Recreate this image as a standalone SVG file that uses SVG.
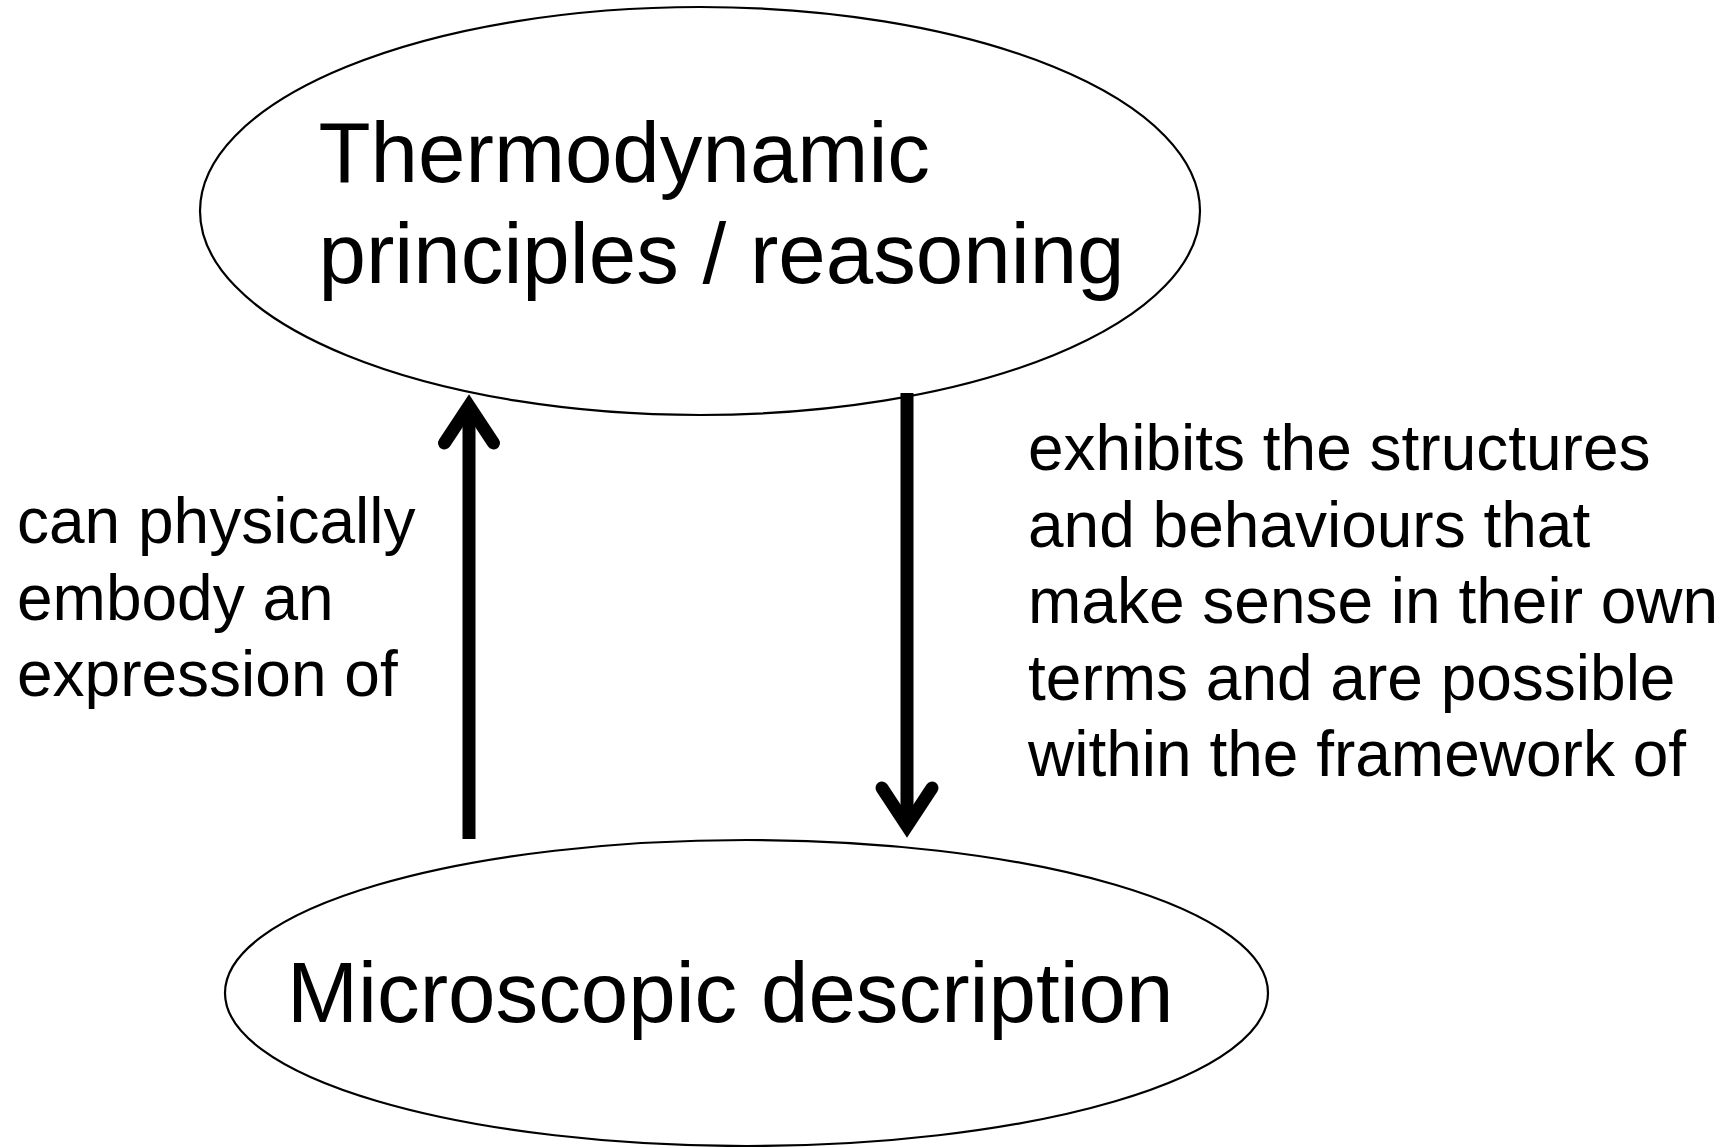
<svg xmlns="http://www.w3.org/2000/svg" width="1723" height="1147" viewBox="0 0 1723 1147">
<style>
.node{fill:#fff;stroke:#000;stroke-width:2.2}
.big{font-family:"Liberation Sans",Arial,sans-serif;font-size:85.3px;fill:#000}
.lbl{font-family:"Liberation Sans",Arial,sans-serif;font-size:64px;fill:#000}
.arr{fill:none;stroke:#000;stroke-width:13;stroke-linejoin:miter;stroke-linecap:butt}
.head{fill:none;stroke:#000;stroke-width:13;stroke-linejoin:miter;stroke-linecap:round}
</style>
<rect width="1723" height="1147" fill="#fff"/>
<g id="thermo">
<ellipse class="node" cx="700" cy="211" rx="500" ry="204"/>
<text class="big" x="318.5" y="181.5">Thermodynamic</text>
<text class="big" x="318.5" y="283">principles / reasoning</text>
</g>
<g id="micro">
<ellipse class="node" cx="746.5" cy="993" rx="521.5" ry="153"/>
<text class="big" x="287" y="1021.5">Microscopic description</text>
</g>
<g id="connectors">
<line class="arr" x1="469" y1="839" x2="469" y2="410"/>
<polyline class="head" points="444.5,443 469,406 493.5,443"/>
<line class="arr" x1="907" y1="393" x2="907" y2="824"/>
<polyline class="head" points="882,788 907,826 932,788"/>
<text class="lbl" x="17"><tspan x="17" y="543">can physically</tspan><tspan x="17" y="619.5">embody an</tspan><tspan x="17" y="696">expression of</tspan></text>
<text class="lbl" x="1028"><tspan x="1028" y="470">exhibits the structures</tspan><tspan x="1028" y="546.5">and behaviours that</tspan><tspan x="1028" y="623">make sense in their own</tspan><tspan x="1028" y="699.5">terms and are possible</tspan><tspan x="1028" y="776">within the framework of</tspan></text>
</g>
</svg>
